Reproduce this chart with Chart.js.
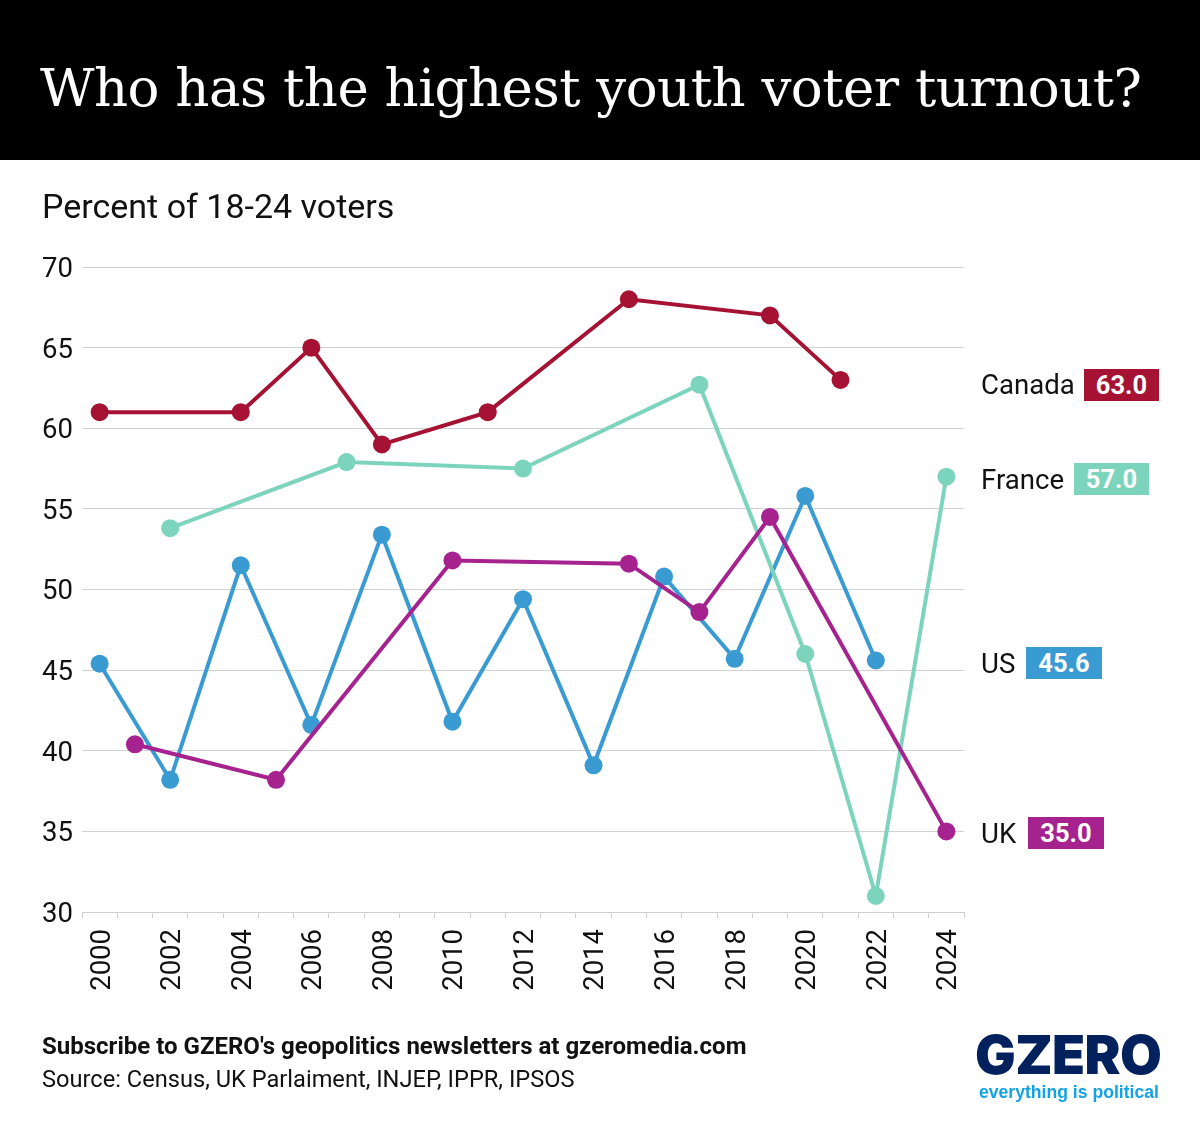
<!DOCTYPE html>
<html>
<head>
<meta charset="utf-8">
<title>Who has the highest youth voter turnout?</title>
<script src="https://cdn.jsdelivr.net/npm/chart.js@4"></script>
<style>
html, body { margin: 0; padding: 0; background: #fff; }
body { position: relative; width: 1200px; height: 1132px; overflow: hidden; font-family: Roboto, sans-serif; color: #111; }
#resultsChart { position: absolute; left: 0; top: 0; }
.txt { position: absolute; white-space: nowrap; }
#banner { position: absolute; left: 0; top: 0; width: 1200px; height: 160px; background: #000; }
#title { left: 40px; top: 55px; font: 400 53px/66px "DejaVu Serif", serif; color: #fff; letter-spacing: -0.52px; }
#subtitle { left: 42px; top: 186px; font-size: 34px; line-height: 40px; }
.name { font-size: 27.6px; line-height: 32px; }
.tag { color: #fff; font-size: 25.5px; font-weight: 700; line-height: 32px; height: 32px; text-align: center; }
#subscribe { left: 42px; top: 1031px; font-size: 24.03px; font-weight: 700; line-height: 30px; }
#source { left: 42px; top: 1064px; font-size: 23.63px; line-height: 30px; }
#logo { left: 975px; top: 1022px; font: 900 54px/66px Inter, sans-serif; color: #03215c; letter-spacing: -0.6px; }
#tagline { left: 979px; top: 1080px; font: 700 17.6px/24px "Liberation Sans", sans-serif; color: #12a3e6; }
</style>
</head>
<body>
<canvas id="resultsChart" width="1200" height="1132"></canvas>
<div id="banner"></div>
<div class="txt" id="title">Who has the highest youth voter turnout?</div>
<div class="txt" id="subtitle">Percent of 18-24 voters</div>

<div class="txt name" style="left:981px;top:369px">Canada</div>
<div class="txt tag" style="left:1084px;top:369px;width:75px;background:#a51234" id="tagCanada"></div>
<div class="txt name" style="left:981px;top:464px">France</div>
<div class="txt tag" style="left:1074px;top:463px;width:75px;background:#7dd4bc" id="tagFrance"></div>
<div class="txt name" style="left:981px;top:648px">US</div>
<div class="txt tag" style="left:1026px;top:647px;width:76px;background:#3a9bd3" id="tagUS"></div>
<div class="txt name" style="left:981px;top:818px">UK</div>
<div class="txt tag" style="left:1028px;top:817px;width:76px;background:#a6238f" id="tagUK"></div>

<div class="txt" id="subscribe">Subscribe to GZERO's geopolitics newsletters at gzeromedia.com</div>
<div class="txt" id="source">Source: Census, UK Parlaiment, INJEP, IPPR, IPSOS</div>
<div class="txt" id="logo">GZERO</div>
<div class="txt" id="tagline">everything is political</div>

<script>
const years = ['2000', '2001', '2002', '2003', '2004', '2005', '2006', '2007', '2008', '2009', '2010', '2011', '2012',
    '2013', '2014', '2015', '2016', '2017', '2018', '2019', '2020', '2021', '2022', '2023', '2024'];
const yTicks = [30, 35, 40, 45, 50, 55, 60, 65, 70];

const canada = [61, null, null, null, 61, null, 65, null, 59, null, null, 61, null,
    null, null, 68, null, null, null, 67, null, 63, null, null, null];
const france = [null, null, 53.8, null, null, null, null, 57.9, null, null, null, null, 57.5,
    null, null, null, null, 62.7, null, null, 46, null, 31, null, 57];
const us = [45.4, null, 38.2, null, 51.5, null, 41.6, null, 53.4, null, 41.8, null, 49.4,
    null, 39.1, null, 50.8, null, 45.7, null, 55.8, null, 45.6, null, null];
const uk = [null, 40.4, null, null, null, 38.2, null, null, null, null, 51.8, null, null,
    null, null, 51.6, null, 48.6, null, 54.5, null, null, null, null, 35];

const CANADA_RED = '#a51234';
const FRANCE_GREEN = '#7dd4bc';
const US_BLUE = '#3a9bd3';
const UK_PURPLE = '#a6238f';

function lastValue(values) {
    return values.filter(v => v !== null).pop().toFixed(1);
}

document.getElementById('tagCanada').textContent = lastValue(canada);
document.getElementById('tagFrance').textContent = lastValue(france);
document.getElementById('tagUS').textContent = lastValue(us);
document.getElementById('tagUK').textContent = lastValue(uk);

function lineSeries(label, values, color, order) {
    return {
        label: label,
        data: values,
        borderColor: color,
        backgroundColor: color,
        pointBackgroundColor: color,
        pointBorderColor: color,
        borderWidth: 4,
        pointRadius: 9,
        pointHoverRadius: 9,
        pointBorderWidth: 0,
        spanGaps: true,
        tension: 0,
        clip: false,
        order: order
    };
}

new Chart(document.getElementById('resultsChart').getContext('2d'), {
    type: 'line',
    data: {
        labels: years,
        datasets: [
            lineSeries('US', us, US_BLUE, 4),
            lineSeries('France', france, FRANCE_GREEN, 3),
            lineSeries('UK', uk, UK_PURPLE, 2),
            lineSeries('Canada', canada, CANADA_RED, 1)
        ]
    },
    options: {
        responsive: false,
        animation: false,
        devicePixelRatio: 1,
        layout: { padding: { left: 0, right: 236, top: 267, bottom: 0 } },
        plugins: { legend: { display: false }, title: { display: false }, tooltip: { enabled: false } },
        scales: {
            x: {
                type: 'category',
                offset: true,
                afterFit: scale => { scale.height = 220; },
                border: { color: '#cfcfcf', width: 1 },
                grid: { offset: true, drawOnChartArea: false, drawTicks: true, tickLength: 6, color: '#cfcfcf' },
                ticks: {
                    autoSkip: false,
                    maxRotation: 90,
                    minRotation: 90,
                    padding: 11,
                    color: '#111',
                    // same nudge as the y axis, moves the rotated years right onto their points
                    font: { family: 'Roboto', size: 27.5, lineHeight: 3 / 27.5 },
                    callback: function (value, index) {
                        return index % 2 === 0 ? ['', this.getLabelForValue(value)] : '';
                    }
                }
            },
            y: {
                min: 30,
                max: 70,
                afterFit: scale => { scale.width = 82; },
                afterBuildTicks: scale => { scale.ticks = yTicks.map(v => ({ value: v })); },
                border: { display: false },
                grid: { color: '#d2d2d2', lineWidth: 1, drawTicks: false },
                ticks: {
                    padding: 9,
                    color: '#111',
                    // empty first line plus a small line height nudges the numbers down onto their grid lines
                    font: { family: 'Roboto', size: 27.5, lineHeight: 6 / 27.5 },
                    callback: value => ['', String(value)]
                }
            }
        }
    }
});
</script>
</body>
</html>
